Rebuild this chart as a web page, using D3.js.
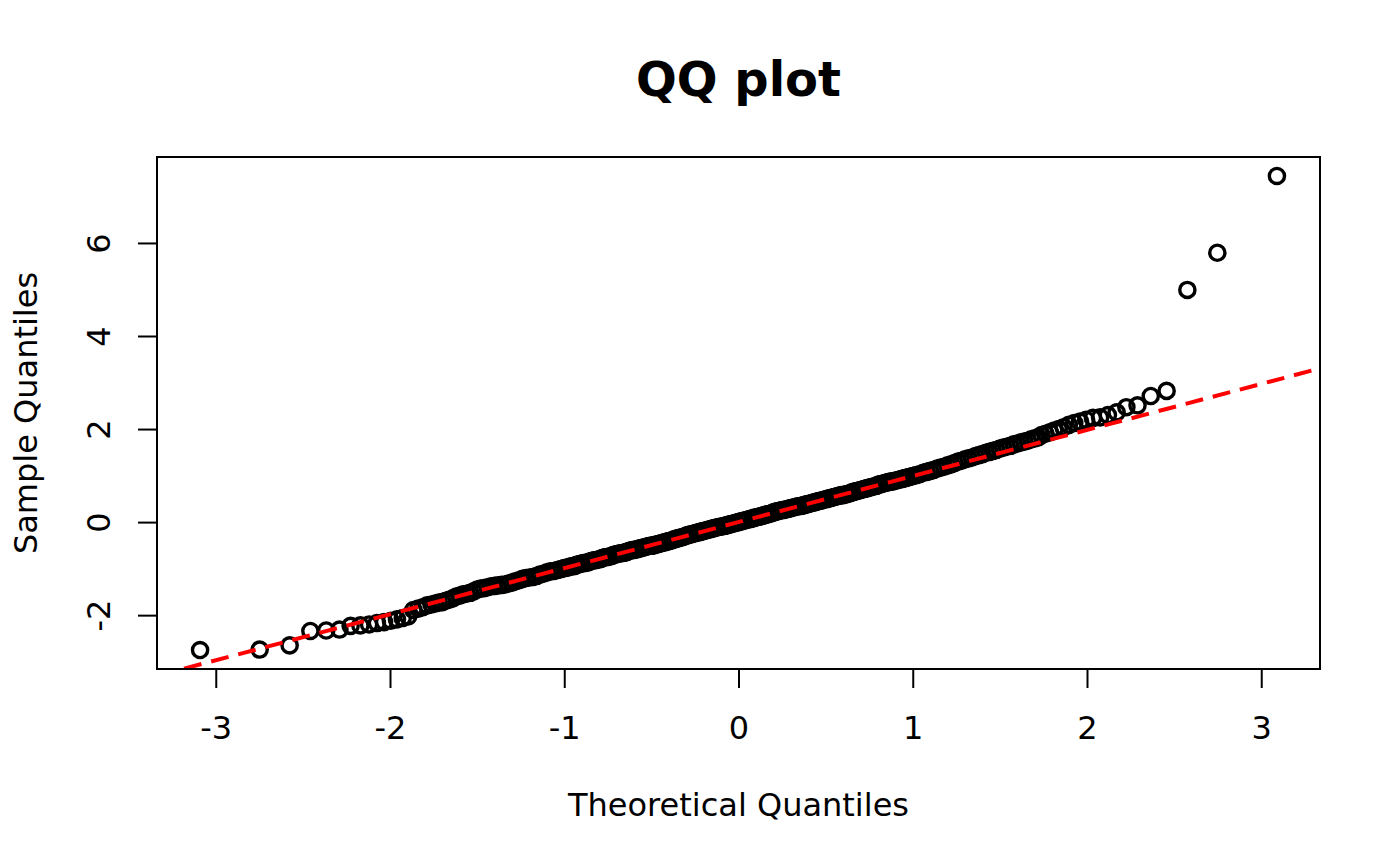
<!DOCTYPE html>
<html><head><meta charset="utf-8">
<script src="https://cdn.jsdelivr.net/npm/d3@7"></script>
<style>body{margin:0;background:#fff}svg{display:block}</style>
</head><body><svg id="chart" width="1400" height="866"></svg>
<script>
// ---- data ----
const theoreticalLowTail = [-3.090,-2.748,-2.576,-2.457,-2.366,-2.290,-2.226,-2.170,-2.120,-2.075,-2.034,-1.995,-1.960,-1.927,-1.896,-1.866,-1.838,-1.812,-1.787,-1.762];
const sampleLowTail      = [-2.75,-2.74,-2.65,-2.34,-2.33,-2.31,-2.23,-2.22,-2.20,-2.17,-2.15,-2.12,-2.09,-2.06,-2.03,-1.89,-1.86,-1.83,-1.79,-1.77];

const theoreticalLowMid = [-1.74,-1.72,-1.70,-1.68,-1.66,-1.64,-1.62,-1.60,-1.58,-1.56,-1.54,-1.52,-1.50,-1.48,-1.46,-1.44,-1.42,-1.40,-1.38,-1.36,-1.34,-1.32,-1.30,-1.28,-1.26,-1.24,-1.22,-1.20,-1.18,-1.16,-1.14,-1.12,-1.10,-1.08,-1.06,-1.04,-1.02];
const sampleLowMid      = [-1.75,-1.73,-1.72,-1.69,-1.67,-1.64,-1.60,-1.58,-1.55,-1.54,-1.52,-1.49,-1.45,-1.43,-1.42,-1.40,-1.38,-1.37,-1.36,-1.35,-1.34,-1.32,-1.30,-1.27,-1.25,-1.22,-1.20,-1.19,-1.18,-1.16,-1.13,-1.11,-1.08,-1.06,-1.05,-1.03,-1.01];

const theoreticalCenter = [
-1.00,-0.99,-0.98,-0.97,-0.96,-0.95,-0.94,-0.93,-0.92,-0.91,
-0.90,-0.89,-0.88,-0.87,-0.86,-0.85,-0.84,-0.83,-0.82,-0.81,
-0.80,-0.79,-0.78,-0.77,-0.76,-0.75,-0.74,-0.73,-0.72,-0.71,
-0.70,-0.69,-0.68,-0.67,-0.66,-0.65,-0.64,-0.63,-0.62,-0.61,
-0.60,-0.59,-0.58,-0.57,-0.56,-0.55,-0.54,-0.53,-0.52,-0.51,
-0.50,-0.49,-0.48,-0.47,-0.46,-0.45,-0.44,-0.43,-0.42,-0.41,
-0.40,-0.39,-0.38,-0.37,-0.36,-0.35,-0.34,-0.33,-0.32,-0.31,
-0.30,-0.29,-0.28,-0.27,-0.26,-0.25,-0.24,-0.23,-0.22,-0.21,
-0.20,-0.19,-0.18,-0.17,-0.16,-0.15,-0.14,-0.13,-0.12,-0.11,
-0.10,-0.09,-0.08,-0.07,-0.06,-0.05,-0.04,-0.03,-0.02,-0.01,
0.00,0.01,0.02,0.03,0.04,0.05,0.06,0.07,0.08,0.09,
0.10,0.11,0.12,0.13,0.14,0.15,0.16,0.17,0.18,0.19,
0.20,0.21,0.22,0.23,0.24,0.25,0.26,0.27,0.28,0.29,
0.30,0.31,0.32,0.33,0.34,0.35,0.36,0.37,0.38,0.39,
0.40,0.41,0.42,0.43,0.44,0.45,0.46,0.47,0.48,0.49,
0.50,0.51,0.52,0.53,0.54,0.55,0.56,0.57,0.58,0.59,
0.60,0.61,0.62,0.63,0.64,0.65,0.66,0.67,0.68,0.69,
0.70,0.71,0.72,0.73,0.74,0.75,0.76,0.77,0.78,0.79,
0.80,0.81,0.82,0.83,0.84,0.85,0.86,0.87,0.88,0.89,
0.90,0.91,0.92,0.93,0.94,0.95,0.96,0.97,0.98,0.99,
1.00];
const sampleCenter = [
-0.99,-0.98,-0.98,-0.96,-0.95,-0.95,-0.94,-0.92,-0.91,-0.90,
-0.89,-0.88,-0.88,-0.87,-0.86,-0.84,-0.83,-0.82,-0.82,-0.81,
-0.80,-0.79,-0.77,-0.76,-0.75,-0.75,-0.74,-0.73,-0.71,-0.70,
-0.69,-0.68,-0.67,-0.67,-0.66,-0.65,-0.64,-0.62,-0.61,-0.60,
-0.60,-0.59,-0.58,-0.57,-0.56,-0.55,-0.54,-0.53,-0.52,-0.51,
-0.51,-0.50,-0.49,-0.48,-0.47,-0.46,-0.45,-0.44,-0.43,-0.42,
-0.41,-0.40,-0.39,-0.37,-0.36,-0.35,-0.34,-0.33,-0.32,-0.31,
-0.29,-0.28,-0.27,-0.26,-0.25,-0.24,-0.23,-0.22,-0.21,-0.20,
-0.19,-0.18,-0.17,-0.16,-0.15,-0.14,-0.13,-0.12,-0.11,-0.10,
-0.10,-0.09,-0.08,-0.07,-0.06,-0.05,-0.04,-0.03,-0.02,-0.01,
0.00,0.01,0.02,0.03,0.04,0.05,0.06,0.07,0.08,0.09,
0.10,0.11,0.12,0.13,0.14,0.15,0.16,0.17,0.18,0.19,
0.21,0.22,0.23,0.24,0.25,0.26,0.26,0.27,0.28,0.29,
0.30,0.31,0.32,0.33,0.34,0.34,0.35,0.36,0.37,0.38,
0.39,0.40,0.41,0.42,0.43,0.44,0.45,0.46,0.47,0.48,
0.49,0.50,0.51,0.52,0.53,0.54,0.55,0.56,0.57,0.58,
0.58,0.59,0.60,0.61,0.62,0.64,0.65,0.66,0.67,0.68,
0.69,0.70,0.71,0.72,0.73,0.74,0.75,0.76,0.77,0.78,
0.80,0.81,0.82,0.83,0.84,0.85,0.86,0.87,0.87,0.88,
0.89,0.90,0.91,0.92,0.93,0.94,0.95,0.96,0.97,0.98,
0.99];

const theoreticalHighMid = [1.02,1.04,1.06,1.08,1.10,1.12,1.14,1.16,1.18,1.20,1.22,1.24,1.26,1.28,1.30,1.32,1.34,1.36,1.38,1.40,1.42,1.44,1.46,1.48,1.50,1.52,1.54,1.56,1.58,1.60,1.62,1.64,1.66,1.68,1.70,1.72];
const sampleHighMid      = [1.01,1.03,1.06,1.08,1.10,1.12,1.15,1.17,1.19,1.22,1.24,1.27,1.30,1.32,1.35,1.37,1.39,1.42,1.44,1.46,1.49,1.51,1.53,1.55,1.58,1.60,1.62,1.64,1.67,1.69,1.71,1.73,1.75,1.78,1.80,1.82];

const theoreticalHighTail = [1.739,1.762,1.787,1.812,1.838,1.866,1.896,1.927,1.960,1.995,2.034,2.075,2.120,2.170,2.226,2.290,2.366,2.457,2.576,2.748,3.090];
const sampleHighTail      = [1.87,1.90,1.93,1.97,2.00,2.04,2.09,2.13,2.16,2.20,2.24,2.25,2.30,2.36,2.47,2.51,2.71,2.82,4.99,5.79,7.44];

const xTicks = [-3,-2,-1,0,1,2,3];
const yTicks = [-2,0,2,4,6];
const qqIntercept = 0.0;
const qqSlope = 0.99;
const titleText = "QQ plot";
const xLabel = "Theoretical Quantiles";
const yLabel = "Sample Quantiles";

// ---- assemble points ----
function pairs(a, b){ const n=Math.min(a.length,b.length); return d3.range(n).map(i=>({tq:a[i], sq:b[i]})); }
const points = [].concat(
  pairs(theoreticalLowTail, sampleLowTail),
  pairs(theoreticalLowMid, sampleLowMid),
  pairs(theoreticalCenter, sampleCenter),
  pairs(theoreticalHighMid, sampleHighMid),
  pairs(theoreticalHighTail, sampleHighTail)
);

// ---- layout ----
const FONT = "'DejaVu Sans', 'Liberation Sans', sans-serif";
const plot = {left:157, right:1320, top:157, bottom:669};
const ext = e => { const d=(e[1]-e[0])*0.04; return [e[0]-d, e[1]+d]; };
const x = d3.scaleLinear().domain(ext(d3.extent(points, d=>d.tq))).range([plot.left, plot.right]);
const y = d3.scaleLinear().domain(ext(d3.extent(points, d=>d.sq))).range([plot.bottom, plot.top]);

const svg = d3.select("#chart");
svg.append("rect").attr("width",1400).attr("height",866).attr("fill","#fff");

svg.append("defs").append("clipPath").attr("id","clip")
  .append("rect").attr("x",plot.left).attr("y",plot.top)
  .attr("width",plot.right-plot.left).attr("height",plot.bottom-plot.top);

// points
svg.append("g").selectAll("circle").data(points).join("circle")
  .attr("cx", d=>x(d.tq)).attr("cy", d=>y(d.sq)).attr("r", 7.6)
  .attr("fill","none").attr("stroke","#000").attr("stroke-width",3.4);

// qq line
const xd = x.domain();
svg.append("line").attr("clip-path","url(#clip)")
  .attr("x1", x(xd[0])).attr("y1", y(qqIntercept + qqSlope*xd[0]))
  .attr("x2", x(xd[1])).attr("y2", y(qqIntercept + qqSlope*xd[1]))
  .attr("stroke","#ff0000").attr("stroke-width",4).attr("stroke-dasharray","18,10");

// box
svg.append("rect").attr("x",plot.left).attr("y",plot.top)
  .attr("width",plot.right-plot.left).attr("height",plot.bottom-plot.top)
  .attr("fill","none").attr("stroke","#000").attr("stroke-width",2);

// x axis
const gx = svg.append("g").attr("transform",`translate(0,${plot.bottom})`)
  .call(d3.axisBottom(x).tickValues(xTicks).tickSize(19).tickFormat(d=>String(d)));
gx.select(".domain").remove();
gx.selectAll(".tick line").attr("stroke","#000").attr("stroke-width",2);
gx.selectAll(".tick text").attr("y",70).attr("dy",null)
  .attr("font-family",FONT).attr("font-size",32).attr("fill","#000");

// y axis
const gy = svg.append("g").attr("transform",`translate(${plot.left},0)`)
  .call(d3.axisLeft(y).tickValues(yTicks).tickSize(19).tickFormat(d=>String(d)));
gy.select(".domain").remove();
gy.selectAll(".tick line").attr("stroke","#000").attr("stroke-width",2);
gy.selectAll(".tick text").attr("x",null).attr("dy",null).attr("y",null)
  .attr("transform","translate(-47,0) rotate(-90)")
  .attr("text-anchor","middle")
  .attr("font-family",FONT).attr("font-size",32).attr("fill","#000");

// titles
svg.append("text").attr("x",(plot.left+plot.right)/2).attr("y",96)
  .attr("text-anchor","middle").attr("font-family",FONT).attr("font-weight","bold")
  .attr("font-size",48).attr("fill","#000").text(titleText);
svg.append("text").attr("x",(plot.left+plot.right)/2).attr("y",816)
  .attr("text-anchor","middle").attr("font-family",FONT)
  .attr("font-size",32).attr("fill","#000").text(xLabel);
svg.append("text").attr("transform",`translate(37,${(plot.top+plot.bottom)/2}) rotate(-90)`)
  .attr("text-anchor","middle").attr("font-family",FONT)
  .attr("font-size",32).attr("fill","#000").text(yLabel);
</script></body></html>
